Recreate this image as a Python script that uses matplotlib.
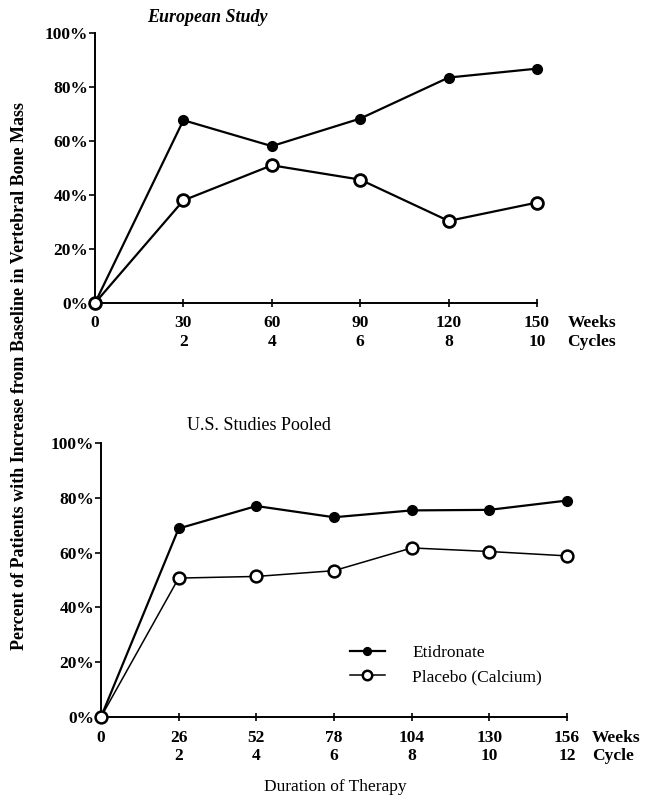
import matplotlib
matplotlib.use("Agg")
import matplotlib.pyplot as plt

plt.rcParams['font.family'] = ['Liberation Serif', 'DejaVu Serif']

# European study
eu_weeks = [0, 30, 60, 90, 120, 150]
eu_cycles = ["", "2", "4", "6", "8", "10"]
eu_etidronate = [0, 67.7, 58.1, 68.3, 83.5, 86.8]
eu_placebo = [0, 38.0, 51.0, 45.7, 30.4, 37.2]

# U.S. pooled
us_weeks = [0, 26, 52, 78, 104, 130, 156]
us_cycles = ["", "2", "4", "6", "8", "10", "12"]
us_etidronate = [0, 68.8, 77.0, 72.9, 75.4, 75.6, 79.0]
us_placebo = [0, 50.7, 51.3, 53.4, 61.7, 60.4, 58.8]

y_ticks = [0, 20, 40, 60, 80, 100]
y_labels = ["0%", "20%", "40%", "60%", "80%", "100%"]

W, H = 646, 802
fig = plt.figure(figsize=(W / 100, H / 100), dpi=100)

def px(x, y):
    return x / W, 1 - y / H

def style(ax, weeks, cycles, unit2, xoff):
    ax.set_xlim(0, weeks[-1])
    ax.set_ylim(0, 100)
    for s in ['top', 'right']:
        ax.spines[s].set_visible(False)
    ax.spines['left'].set_linewidth(1.4)
    ax.spines['bottom'].set_linewidth(1.4)
    ax.set_yticks(y_ticks)
    ax.set_yticklabels(y_labels, fontsize=12.5, fontweight='bold')
    ax.set_xticks(weeks)
    ax.set_xticklabels([f"{w}\n{c}" for w, c in zip(weeks, cycles)],
                       fontsize=12.5, fontweight='bold', linespacing=1.25)
    ax.tick_params(axis='y', direction='out', length=4, width=1.2, pad=1)
    ax.tick_params(axis='x', direction='inout', length=6, width=1.2, pad=6)
    ax.annotate(f"Weeks\n{unit2}", xy=(1.0, 0.0), xycoords='axes fraction',
                xytext=(xoff, -9), textcoords='offset points', fontsize=12.5,
                fontweight='bold', va='top', ha='left', linespacing=1.25)

# top panel: x 95..537, y 33..303
l, t = px(95, 33)
r, b = px(537, 303)
ax1 = fig.add_axes([l, b, r - l, t - b])
ax1.plot(eu_weeks, eu_etidronate, color='black', lw=1.6, marker='o', ms=7,
         mfc='black', mec='black', clip_on=False, zorder=3)
ax1.plot(eu_weeks, eu_placebo, color='black', lw=1.6, marker='o', ms=8.5,
         mfc='white', mec='black', mew=2, clip_on=False, zorder=3)
style(ax1, eu_weeks, eu_cycles, "Cycles", 22)
fig.text(*px(147, 18), "European Study", fontsize=13, fontweight='bold',
         fontstyle='italic', ha='left', va='center')

# bottom panel: x 101..567, y 443..717
l, t = px(101, 443)
r, b = px(567, 717)
ax2 = fig.add_axes([l, b, r - l, t - b])
l1, = ax2.plot(us_weeks, us_etidronate, color='black', lw=1.6, marker='o', ms=7,
               mfc='black', mec='black', clip_on=False, zorder=3, label='Etidronate')
l2, = ax2.plot(us_weeks, us_placebo, color='black', lw=1.1, marker='o', ms=8.5,
               mfc='white', mec='black', mew=1.8, clip_on=False, zorder=3,
               label='Placebo (Calcium)')
style(ax2, us_weeks, us_cycles, "Cycle", 18)
fig.text(*px(187, 425), "U.S. Studies Pooled", fontsize=13, ha='left', va='center')
ax2.legend(handles=[l1, l2], loc='center left', bbox_to_anchor=px(350, 665),
           bbox_transform=fig.transFigure, frameon=False, fontsize=12.5,
           handlelength=2.0, markerscale=0.8, labelspacing=0.45,
           handletextpad=1.6, borderaxespad=0, borderpad=0)
fig.text(*px(335, 787), "Duration of Therapy", fontsize=12.5, ha='center', va='center')

fig.text(*px(20, 376), "Percent of Patients with Increase from Baseline in Vertebral Bone Mass",
         rotation=90, ha='center', va='center', fontsize=13, fontweight='bold')

fig.savefig("out.png", dpi=100)
